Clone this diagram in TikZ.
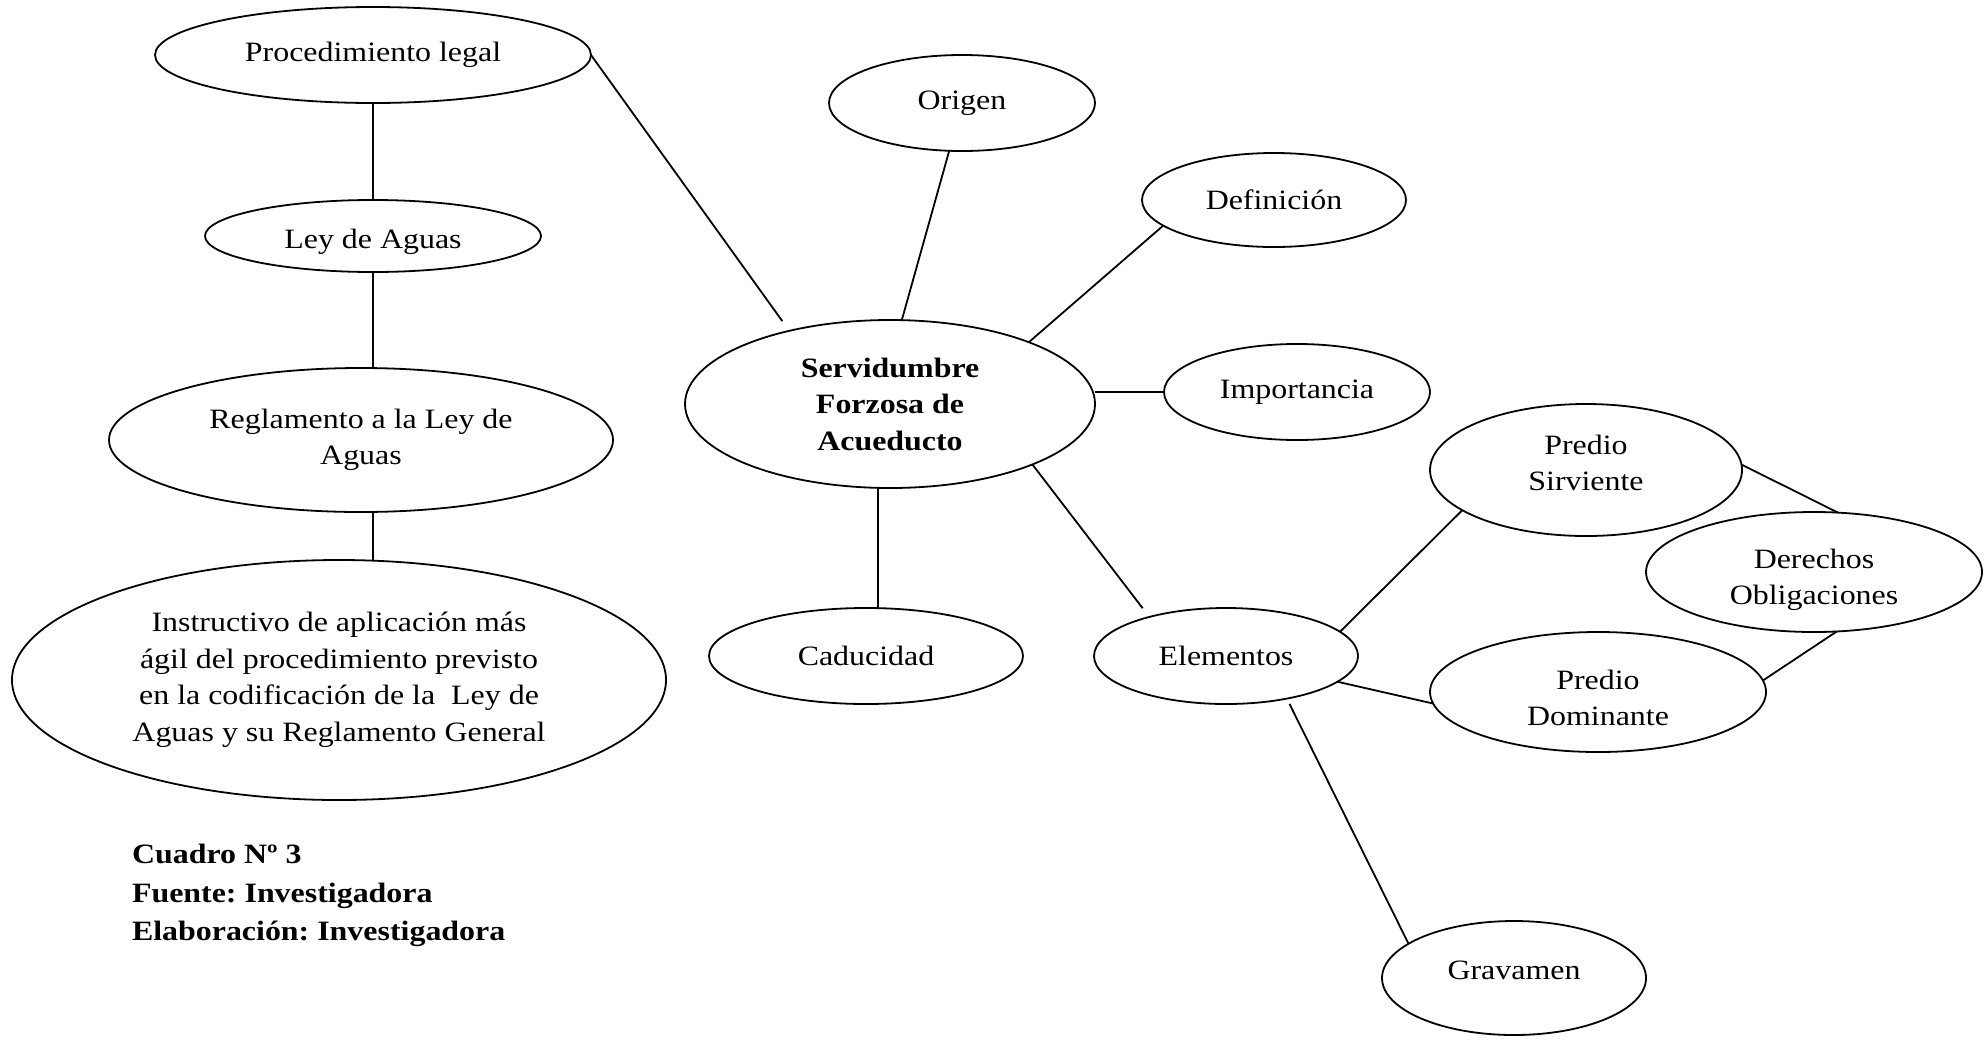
\documentclass[tikz,border=0pt]{standalone}
\usepackage{fontspec}
\setmainfont{Liberation Serif}[FakeStretch=1.14]
\usetikzlibrary{shapes.geometric}
\newcommand{\nodefont}{\fontsize{14pt}{18.25pt}\selectfont}
\frenchspacing
\begin{document}
\begin{tikzpicture}[x=0.5pt,y=-0.5pt,
  bub/.style={ellipse, draw, line width=0.9pt, inner sep=0pt, outer sep=0pt,
    align=center, font=\nodefont},
  boldbub/.style={bub, font=\nodefont\bfseries},
  txt/.style={inner sep=0pt, outer sep=0pt, align=center, font=\nodefont},
  link/.style={line width=0.9pt},
  captiontext/.style={font=\fontsize{14pt}{19.25pt}\selectfont\bfseries,
    anchor=base west, inner sep=0pt, outer sep=0pt}]
\useasboundingbox (0,0) rectangle (1984,1039);
\fill[white] (0,0) rectangle (1984,1039);

% left column
\node[bub, minimum width=218pt, minimum height=48pt] (proc) at (373,55) {Procedimiento legal};
\node[bub, minimum width=168pt, minimum height=36pt] (ley) at (373,236) {};
\node[txt] (leytxt) at (373,242) {Ley de Aguas};
\node[bub, minimum width=252pt, minimum height=72pt] (regl) at (361,440) {Reglamento a la Ley de\\Aguas};
\node[bub, minimum width=327pt, minimum height=120pt] (inst) at (339,680)
  {Instructivo de aplicación más\\ágil del procedimiento previsto\\en la codificación de la~ Ley de\\Aguas y su Reglamento General};

% centre
\node[boldbub, minimum width=205pt, minimum height=84pt] (serv) at (890,404) {Servidumbre\\Forzosa de\\Acueducto};
\node[bub, minimum width=133pt, minimum height=48pt] (orig) at (962,103) {Origen};
\node[bub, minimum width=132pt, minimum height=47pt] (defi) at (1274,200) {Definición};
\node[bub, minimum width=133pt, minimum height=48pt] (impo) at (1297,392) {Importancia};
\node[bub, minimum width=157pt, minimum height=48pt] (cadu) at (866,656) {Caducidad};
\node[bub, minimum width=132pt, minimum height=48pt] (elem) at (1226,656) {Elementos};

% right cluster
\node[bub, minimum width=156pt, minimum height=66pt] (sirv) at (1586,470) {};
\node[txt] (sirvtxt) at (1586,463) {Predio\\Sirviente};
\node[bub, minimum width=168pt, minimum height=60pt] (dere) at (1814,572) {};
\node[txt] (deretxt) at (1814,580) {Derechos\\Obligaciones};
\node[bub, minimum width=168pt, minimum height=60pt] (domi) at (1598,692) {};
\node[txt] (domitxt) at (1598,698) {Predio\\Dominante};
\node[bub, minimum width=132pt, minimum height=57pt] (grav) at (1514,978) {};
\node[txt] (gravtxt) at (1514,970) {Gravamen};

% caption
\node[captiontext] (cap1) at (132,863) {Cuadro Nº 3};
\node[captiontext] (cap2) at (132,902) {Fuente: Investigadora};
\node[captiontext] (cap3) at (132,940) {Elaboración: Investigadora};

% connectors
\draw[link] (proc.south) -- (ley.north);
\draw[link] (ley.south) -- (ley.south |- regl.north);
\draw[link] (regl.south -| ley.south) -- (inst.north -| ley.south);
\draw[link, shorten >=6pt] (proc.east) -- (serv.144);
\draw[link] (orig.255) -- (serv.82);
\draw[link] (defi.193) -- (serv.24.5);
\draw[link] (impo.west -| serv.east) -- (impo.west);
\draw[link, shorten >=5.5pt] (serv.337) -- (elem.153);
\draw[link] (serv.south -| cadu.76) -- (cadu.76);
\draw[link] (elem.12) -- (sirv.198);
\draw[link] (elem.347) -- (domi.184);
\draw[link, shorten <=3pt] (elem.325) -- (grav.162);
\draw[link] (sirv.2) -- (dere.68);
\draw[link] (dere.291.5) -- (domi.4);
\end{tikzpicture}
\end{document}
